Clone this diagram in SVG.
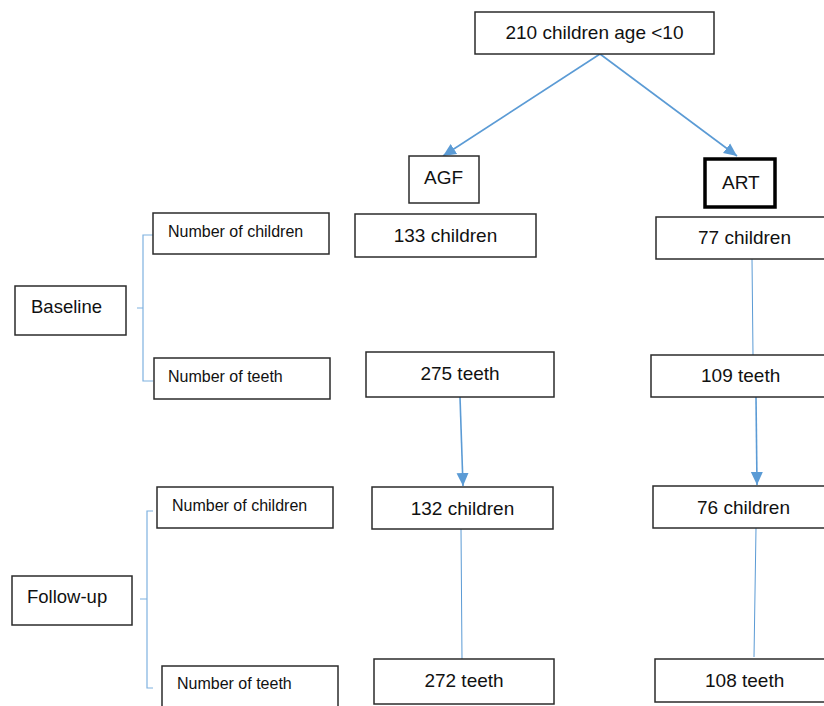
<svg xmlns="http://www.w3.org/2000/svg" width="824" height="706" viewBox="0 0 824 706">
<style>
.box{fill:#fff;stroke:#2b2b2b;stroke-width:1.5}
.thick{fill:#fff;stroke:#000;stroke-width:3.5}
.t{font-family:"Liberation Sans",Arial,sans-serif;font-size:19px;fill:#111}
.s{font-family:"Liberation Sans",Arial,sans-serif;font-size:16px;fill:#111}
.arrow{stroke:#5B9BD5;stroke-width:1.6;fill:none}
.line{stroke:#5B9BD5;stroke-width:1;fill:none}
.br{stroke:#7FB1E0;stroke-width:1.2;fill:none}
</style>
<defs>
<marker id="ah" markerUnits="userSpaceOnUse" markerWidth="14" markerHeight="14" viewBox="0 0 14 14" refX="13" refY="7" orient="auto">
<path d="M0,1 L13,7 L0,13 Z" fill="#5B9BD5"/>
</marker>
</defs>
<rect width="824" height="706" fill="#fff"/>
<g id="connectors">
<line class="arrow" x1="600" y1="54" x2="443" y2="156" marker-end="url(#ah)"/>
<line class="arrow" x1="600" y1="54" x2="737" y2="156" marker-end="url(#ah)"/>
<line class="line" x1="752" y1="259" x2="753" y2="355"/>
<line class="arrow" x1="460" y1="397" x2="463" y2="486" marker-end="url(#ah)"/>
<line class="arrow" x1="756" y1="397" x2="757" y2="485" marker-end="url(#ah)"/>
<line class="line" x1="461" y1="529" x2="462" y2="660"/>
<line class="line" x1="756" y1="528" x2="754" y2="657"/>
<path class="br" d="M153,235 H143 V381 H153 M137,308 H143"/>
<path class="br" d="M153,511 H147 V688 H153 M140,599 H147"/>
</g>
<g id="top"><rect class="box" x="475" y="12" width="239" height="42"/><text class="t" x="594.5" y="39" text-anchor="middle">210 children age &lt;10</text></g>
<g id="agf"><rect class="box" x="409" y="156" width="70" height="47"/><text class="t" x="424" y="184">AGF</text></g>
<g id="art"><rect class="thick" x="705" y="159" width="70" height="48"/><text class="t" x="722" y="189">ART</text></g>
<g id="agf-children-base"><rect class="box" x="355" y="214" width="181" height="43"/><text class="t" x="445.5" y="242" text-anchor="middle">133 children</text></g>
<g id="art-children-base"><rect class="box" x="656" y="217" width="180" height="42"/><text class="t" x="698" y="244">77 children</text></g>
<g id="agf-teeth-base"><rect class="box" x="366" y="352" width="188" height="45"/><text class="t" x="460" y="380" text-anchor="middle">275 teeth</text></g>
<g id="art-teeth-base"><rect class="box" x="651" y="355" width="185" height="42"/><text class="t" x="701" y="382">109 teeth</text></g>
<g id="agf-children-fu"><rect class="box" x="372" y="487" width="181" height="42"/><text class="t" x="462.5" y="515" text-anchor="middle">132 children</text></g>
<g id="art-children-fu"><rect class="box" x="653" y="486" width="183" height="42"/><text class="t" x="697" y="514">76 children</text></g>
<g id="agf-teeth-fu"><rect class="box" x="374" y="659" width="180" height="45"/><text class="t" x="464" y="687" text-anchor="middle">272 teeth</text></g>
<g id="art-teeth-fu"><rect class="box" x="655" y="659" width="181" height="43"/><text class="t" x="705" y="687">108 teeth</text></g>
<g id="baseline"><rect class="box" x="15" y="286" width="111" height="49"/><text class="t" x="31" y="313" style="font-size:18.5px">Baseline</text></g>
<g id="base-nchildren"><rect class="box" x="153" y="213" width="176" height="41"/><text class="s" x="168" y="237">Number of children</text></g>
<g id="base-nteeth"><rect class="box" x="154" y="358" width="176" height="41"/><text class="s" x="168" y="382">Number of teeth</text></g>
<g id="followup"><rect class="box" x="12" y="576" width="120" height="49"/><text class="t" x="27" y="603" style="font-size:18.5px">Follow-up</text></g>
<g id="fu-nchildren"><rect class="box" x="157" y="487" width="176" height="41"/><text class="s" x="172" y="511">Number of children</text></g>
<g id="fu-nteeth"><rect class="box" x="162" y="666" width="176" height="50"/><text class="s" x="177" y="689">Number of teeth</text></g>
</svg>
